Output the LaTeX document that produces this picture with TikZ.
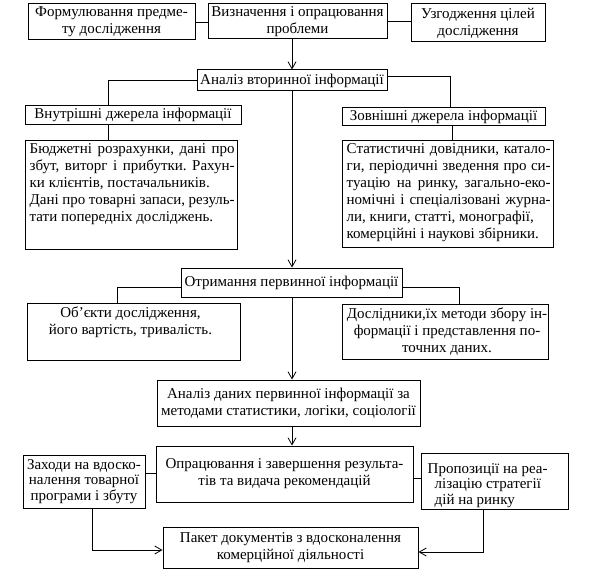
\documentclass[tikz,border=0pt]{standalone}
\usepackage{fontspec}
\setmainfont{Liberation Serif}
\usetikzlibrary{arrows.meta,calc}
\frenchspacing
\newcommand\fs{\fontsize{15}{17}\selectfont}
\newcommand\fz{\fontsize{15}{15.5}\selectfont}
\newcommand\jl[2]{\makebox[#1][s]{#2}}
\begin{document}
\begin{tikzpicture}[x=1pt,y=-1pt,
 box/.style={draw, line width=1pt, inner sep=0pt, font=\fs, align=center},
 txt/.style={inner sep=0pt, font=\fs},
 conn/.style={line width=0.8pt},
 arr/.style={conn, -{Straight Barb[length=7pt,width=8pt]}}]
\useasboundingbox[fill=white] (0,0) rectangle (599,575);

\node[box, minimum width=167pt, minimum height=36pt] (f1) at (111.5,22) {Формулювання предме-\\ту дослідження};
\node[box, minimum width=179pt, minimum height=35pt] (f2) at (297.5,21.5) {Визначення і опрацювання\\проблеми};
\node[box, minimum width=134pt, minimum height=38pt] (f3) at (478,23) {Узгодження цілей\\дослідження};
\node[box, minimum width=190pt, minimum height=21pt] (a1) at (292,80.5) {Аналіз вторинної інформації};
\node[box, minimum width=216pt, minimum height=18pt] (in) at (133,115) {Внутрішні джерела інформації};
\node[box, minimum width=212pt, minimum height=109pt] (bud) at (131,194.5) {};
\node[txt, anchor=north west, align=left] (budt) at ([xshift=5pt,yshift=-4pt]bud.north west) {\jl{205pt}{Бюджетні розрахунки, дані про}\\ \jl{205pt}{збут, виторг і прибутки. Рахун-}\\ки клієнтів, постачальників.\\ \jl{205pt}{Дані про товарні запаси, резуль-}\\тати попередніх досліджень.};
\node[box, minimum width=203pt, minimum height=17pt] (ex) at (443.5,116.5) {Зовнішні джерела інформації};
\node[box, minimum width=211pt, minimum height=107pt] (stat) at (447.5,193.5) {};
\node[txt, anchor=north west, align=left] (statt) at ([xshift=5pt,yshift=-4pt]stat.north west) {\jl{204pt}{Статистичні довідники, катало-}\\ \jl{204pt}{ги, періодичні зведення про си-}\\ \jl{204pt}{туацію на ринку, загально-еко-}\\ \jl{204pt}{номічні і спеціалізовані журна-}\\ли, книги, статті, монографії,\\комерційні і наукові збірники.};
\node[box, minimum width=221pt, minimum height=29pt] (ot) at (291.5,282.5) {Отримання первинної інформації};
\node[box, minimum width=213pt, minimum height=57pt] (ob) at (133.5,331.5) {};
\node[txt, anchor=north, align=center] (obt) at ([xshift=-3pt,yshift=-4pt]ob.north) {Об’єкти дослідження,\\його вартість, тривалість.};
\node[box, minimum width=206pt, minimum height=55pt] (dos) at (445,331.5) {};
\node[txt, anchor=north, align=center] (dost) at ([xshift=2pt,yshift=-4pt]dos.north) {Дослідники,їх методи збору ін-\\формації і представлення по-\\точних даних.};
\node[box, minimum width=263pt, minimum height=46pt] (an2) at (288.5,403) {Аналіз даних первинної інформації за\\методами статистики, логіки, соціології};
\node[box, minimum width=257pt, minimum height=56pt] (op) at (284.5,474) {Опрацювання і завершення результа-\\тів та видача рекомендацій};
\node[box, minimum width=122pt, minimum height=53pt, font=\fz] (za) at (84,481.5) {Заходи на вдоско-\\налення товарної\\програми і збуту};
\node[box, minimum width=147pt, minimum height=56pt] (pr) at (494.5,481) {};
\node[txt, font=\fz, anchor=north west, align=left] (prt) at ([xshift=7pt,yshift=-10.5pt]pr.north west) {Пропозиції на реа-\\\hspace*{7pt}лізацію стратегії\\\hspace*{7pt}дій на ринку};
\node[box, minimum width=255pt, minimum height=41pt] (pak) at (290.5,547.5) {Пакет документів з вдосконалення\\комерційної діяльності};

\draw[conn] (f1.east) -- (f1.east -| f2.west);
\draw[conn] (f2.east) -- (f2.east -| f3.west);
\draw[arr] (a1.north |- f2.south) -- (a1.north);
\draw[conn] (a1.west) -| ([xshift=-25pt]in.north);
\draw[conn] ([yshift=4.5pt]a1.east) -| ([xshift=6.5pt]ex.north);
\draw[conn] ([xshift=-25pt]in.south) -- ([xshift=-25pt]in.south |- bud.north);
\draw[conn] ([xshift=8.5pt]ex.south) -- ([xshift=8.5pt]ex.south |- stat.north);
\draw[arr] (a1.south) -- (a1.south |- ot.north);
\draw[conn] ([yshift=-4.5pt]ot.west) -| ([xshift=-16.5pt]ob.north);
\draw[conn] ([yshift=-4.5pt]ot.east) -| ([xshift=14pt]dos.north);
\draw[arr] (a1.south |- ot.south) -- (a1.south |- an2.north);
\draw[arr] (a1.south |- an2.south) -- (a1.south |- op.north);
\draw[conn] ([yshift=8.5pt]za.east) -- ([yshift=8.5pt]za.east -| op.west);
\draw[conn] ([yshift=-4pt]op.east) -- ([yshift=-4pt]op.east -| pr.west);
\draw[arr] ([xshift=8pt]za.south) |- ([yshift=-2.5pt]pak.west);
\draw[arr] ([xshift=-11.5pt]pr.south) |- ([yshift=-4.5pt]pak.east);
\end{tikzpicture}
\end{document}
